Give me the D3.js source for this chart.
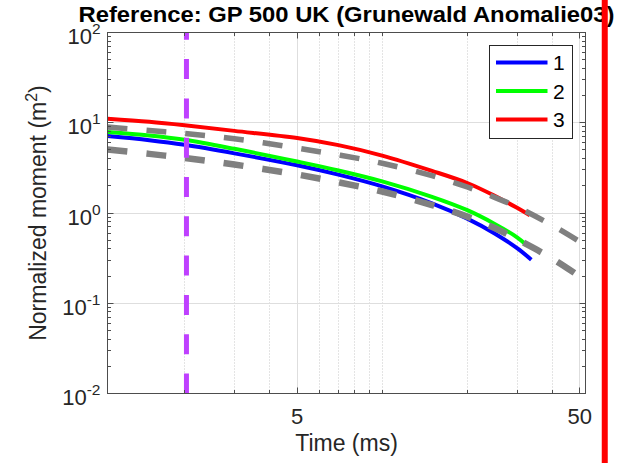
<!DOCTYPE html>
<html>
<head>
<meta charset="utf-8">
<script src="https://cdn.jsdelivr.net/npm/d3@7"></script>
<style>
  html, body { margin: 0; padding: 0; background: #fff; }
  svg { display: block; font-family: "Liberation Sans", Arial, Helvetica, sans-serif; }
</style>
</head>
<body>
<svg id="chart" width="618" height="463"></svg>
<script>
// ---- Text ----
const titleText = "Reference: GP 500 UK (Grunewald Anomalie03)";
const xLabelText = "Time (ms)";
const yLabelText = "Normalized moment (m";
const yLabelSup = "2";

// ---- Axes ----
const xDomain = [1.067, 52.4];          // ms
const yDomain = [0.01, 100];            // m^2
const xTickValues = [5, 50];
const xTickLabels = ["5", "50"];
const xMinorValues = [2, 3, 4, 6, 7, 8, 9, 10, 20, 30, 40];
const yTickExponents = [-2, -1, 0, 1, 2];

// ---- Modelled curves (legend entries 1..3) ----
const seriesNames = ["1", "2", "3"];
const times1 = [1.067, 1.5, 2, 3, 5, 7, 10, 15, 20, 25, 30, 33.7];
const values1 = [7.12, 6.40, 5.69, 4.58, 3.38, 2.66, 1.97, 1.28, 0.867, 0.594, 0.408, 0.304];
const times2 = [1.067, 1.5, 2, 3, 5, 7, 10, 15, 20, 25, 30, 32.4];
const values2 = [7.89, 7.22, 6.47, 5.14, 3.72, 2.96, 2.24, 1.51, 1.074, 0.757, 0.538, 0.442];
const times3 = [1.067, 1.5, 2, 3, 5, 7, 10, 15, 20, 25, 30, 33.3];
const values3 = [11.10, 10.23, 9.36, 8.13, 6.77, 5.65, 4.33, 2.93, 2.15, 1.55, 1.14, 0.943];

// ---- Reference bounds (grey dashed) ----
const refTimes = [1.067, 1.5, 2, 3, 5, 7, 10, 15, 20, 25, 30, 40, 52.4];
const refUpper = [8.96, 8.20, 7.59, 6.65, 5.23, 4.40, 3.56, 2.59, 1.94, 1.49, 1.165, 0.729, 0.439];
const refLower = [5.04, 4.52, 4.07, 3.44, 2.67, 2.19, 1.73, 1.226, 0.912, 0.681, 0.511, 0.312, 0.179];

// ---- Vertical markers ----
const onsetTime = 2.03;     // purple dashed marker
const cutoffTime = 61.3;    // red marker beyond the right axis

// ---- Layout ----
const W = 618, H = 463;
const plot = { left: 107.5, right: 585.5, top: 32.5, bottom: 393.5 };
const seriesColors = ["#0000ff", "#00ff00", "#ff0000"];
const greyColor = "#808080";
const onsetColor = "#bf40ff";
const axisColor = "#4d4d4d";
const textColor = "#262626";

const svg = d3.select("#chart");

const x = d3.scaleLog().domain(xDomain).range([plot.left, plot.right]);
const y = d3.scaleLog().domain(yDomain).range([plot.bottom, plot.top]);
const crisp = v => Math.round(v - 0.5) + 0.5;

svg.append("defs").append("clipPath").attr("id", "plotClip")
  .append("rect")
  .attr("x", plot.left).attr("y", plot.top)
  .attr("width", plot.right - plot.left).attr("height", plot.bottom - plot.top);

// ---- Grid ----
const grid = svg.append("g");
grid.selectAll("line.xminor").data(xMinorValues).join("line")
  .attr("class", "xminor")
  .attr("x1", d => crisp(x(d))).attr("x2", d => crisp(x(d)))
  .attr("y1", plot.top).attr("y2", plot.bottom)
  .attr("stroke", "#c8c8c8").attr("stroke-width", 1).attr("stroke-dasharray", "1,2");
grid.selectAll("line.xmajor").data(xTickValues).join("line")
  .attr("class", "xmajor")
  .attr("x1", d => crisp(x(d))).attr("x2", d => crisp(x(d)))
  .attr("y1", plot.top).attr("y2", plot.bottom)
  .attr("stroke", "#dedede").attr("stroke-width", 1);
grid.selectAll("line.ymajor").data(yTickExponents.slice(1, -1)).join("line")
  .attr("class", "ymajor")
  .attr("x1", plot.left).attr("x2", plot.right)
  .attr("y1", d => crisp(y(Math.pow(10, d)))).attr("y2", d => crisp(y(Math.pow(10, d))))
  .attr("stroke", "#dedede").attr("stroke-width", 1);

// ---- Curves ----
const line = d3.line()
  .x(d => x(d[0]))
  .y(d => y(d[1]))
  .curve(d3.curveCatmullRom.alpha(0.5));

const data = svg.append("g").attr("clip-path", "url(#plotClip)");

const series = [
  { name: seriesNames[0], color: seriesColors[0], pts: d3.zip(times1, values1) },
  { name: seriesNames[1], color: seriesColors[1], pts: d3.zip(times2, values2) },
  { name: seriesNames[2], color: seriesColors[2], pts: d3.zip(times3, values3) }
];

data.selectAll("path.series").data(series).join("path")
  .attr("class", "series")
  .attr("d", d => line(d.pts))
  .attr("fill", "none")
  .attr("stroke", d => d.color)
  .attr("stroke-width", 4)
  .attr("stroke-linejoin", "round");

const bounds = [
  { pts: d3.zip(refTimes, refUpper), w: 5.5 },
  { pts: d3.zip(refTimes, refLower), w: 6.5 }
];
data.selectAll("path.bound").data(bounds).join("path")
  .attr("class", "bound")
  .attr("d", d => line(d.pts))
  .attr("fill", "none")
  .attr("stroke", greyColor)
  .attr("stroke-width", d => d.w)
  .attr("stroke-dasharray", "20,19");

// onset marker, drawn bottom to top
data.append("line")
  .attr("x1", x(onsetTime)).attr("x2", x(onsetTime))
  .attr("y1", y(yDomain[0])).attr("y2", y(yDomain[1]))
  .attr("stroke", onsetColor).attr("stroke-width", 5)
  .attr("stroke-dasharray", "20,19.3");

// ---- Axes box & ticks ----
const axes = svg.append("g");
axes.append("rect")
  .attr("x", plot.left).attr("y", plot.top)
  .attr("width", plot.right - plot.left).attr("height", plot.bottom - plot.top)
  .attr("fill", "none").attr("stroke", axisColor).attr("stroke-width", 1);

const yMinorValues = [];
for (let e = yTickExponents[0]; e < yTickExponents[yTickExponents.length - 1]; e++) {
  for (let k = 2; k <= 9; k++) yMinorValues.push(k * Math.pow(10, e));
}
const yMajorValues = yTickExponents.map(e => Math.pow(10, e));

function vTicks(vals, len) {
  axes.append("g").selectAll("line").data(vals).join("line")
    .attr("x1", d => crisp(x(d))).attr("x2", d => crisp(x(d)))
    .attr("y1", plot.bottom).attr("y2", plot.bottom - len)
    .attr("stroke", axisColor);
  axes.append("g").selectAll("line").data(vals).join("line")
    .attr("x1", d => crisp(x(d))).attr("x2", d => crisp(x(d)))
    .attr("y1", plot.top).attr("y2", plot.top + len)
    .attr("stroke", axisColor);
}
function hTicks(vals, len) {
  axes.append("g").selectAll("line").data(vals).join("line")
    .attr("y1", d => crisp(y(d))).attr("y2", d => crisp(y(d)))
    .attr("x1", plot.left).attr("x2", plot.left + len)
    .attr("stroke", axisColor);
  axes.append("g").selectAll("line").data(vals).join("line")
    .attr("y1", d => crisp(y(d))).attr("y2", d => crisp(y(d)))
    .attr("x1", plot.right).attr("x2", plot.right - len)
    .attr("stroke", axisColor);
}
vTicks(xMinorValues, 3.5);
vTicks(xTickValues, 6);
hTicks(yMinorValues, 3.5);
hTicks(yMajorValues, 6);

// x tick labels
axes.append("g").selectAll("text").data(xTickValues).join("text")
  .attr("x", d => x(d))
  .attr("y", 424)
  .attr("text-anchor", "middle")
  .attr("font-size", 22)
  .attr("fill", textColor)
  .text((d, i) => xTickLabels[i]);

// y tick labels 10^n
const yLab = axes.append("g").selectAll("text").data(yTickExponents).join("text")
  .attr("x", 100.5)
  .attr("y", d => y(Math.pow(10, d)) + 11.5)
  .attr("text-anchor", "end")
  .attr("font-size", 22)
  .attr("fill", textColor);
yLab.append("tspan").text("10");
yLab.append("tspan").attr("dy", -10).attr("font-size", 15.5).text(d => String(d));

// ---- Axis titles ----
svg.append("text")
  .attr("x", (plot.left + plot.right) / 2)
  .attr("y", 451)
  .attr("text-anchor", "middle")
  .attr("font-size", 23)
  .attr("fill", textColor)
  .text(xLabelText);

const yTitle = svg.append("text")
  .attr("transform", `translate(46,${(plot.top + plot.bottom) / 2}) rotate(-90)`)
  .attr("text-anchor", "middle")
  .attr("font-size", 23)
  .attr("fill", textColor);
yTitle.append("tspan").text(yLabelText);
yTitle.append("tspan").attr("dy", -9).attr("font-size", 16).text(yLabelSup);
yTitle.append("tspan").attr("dy", 9).text(")");

// ---- Legend ----
const legend = svg.append("g").attr("transform", "translate(489.5,45.5)");
legend.append("rect")
  .attr("width", 83).attr("height", 93)
  .attr("fill", "#fff").attr("stroke", "#262626").attr("stroke-width", 1);
const entry = legend.selectAll("g.entry").data(series).join("g")
  .attr("class", "entry")
  .attr("transform", (d, i) => `translate(0,${17 + i * 28.5})`);
entry.append("line")
  .attr("x1", 6.5).attr("x2", 58)
  .attr("stroke", d => d.color).attr("stroke-width", 4);
entry.append("text")
  .attr("x", 63.5).attr("y", 7.6)
  .attr("font-size", 21)
  .attr("fill", "#000")
  .text(d => d.name);

// ---- Title ----
svg.append("text")
  .attr("x", (plot.left + plot.right) / 2)
  .attr("y", 21.7)
  .attr("text-anchor", "middle")
  .attr("font-size", 22)
  .attr("font-weight", "bold")
  .attr("fill", "#000")
  .attr("textLength", 536)
  .attr("lengthAdjust", "spacingAndGlyphs")
  .text(titleText);

// ---- Cutoff marker across the whole figure ----
svg.append("line")
  .attr("x1", x(cutoffTime)).attr("x2", x(cutoffTime))
  .attr("y1", 0).attr("y2", H)
  .attr("stroke", "#ff0000").attr("stroke-width", 6);
</script>
</body>
</html>
